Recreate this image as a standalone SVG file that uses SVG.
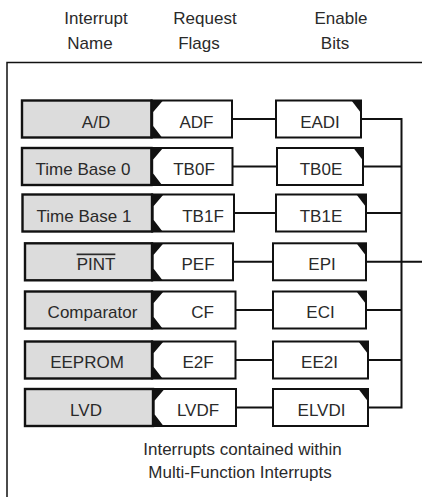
<svg xmlns="http://www.w3.org/2000/svg" width="422" height="497" viewBox="0 0 422 497">
<style>
text{font-family:"Liberation Sans",Arial,sans-serif;font-size:17px;fill:#2a2a2a;text-anchor:middle}
.name{fill:#dcdcdc;stroke:#111;stroke-width:2.4}
.box{fill:#fff;stroke:#111;stroke-width:2}
.blk{fill:#111;stroke:none}
.wire{stroke:#111;stroke-width:2;fill:none}
.frame{stroke:#111;stroke-width:1.5;fill:none}
</style>
<rect width="422" height="497" fill="#fff"/>
<g id="frame"><path class="frame" d="M7,497 V62.5 H422"/></g>
<g id="headers">
<text x="96" y="23.5">Interrupt</text><text x="90" y="48.5">Name</text>
<text x="205" y="23.5">Request</text><text x="199" y="48.5">Flags</text>
<text x="341" y="23.5">Enable</text><text x="335" y="48.5">Bits</text>
</g>
<g id="connectors">
<path class="wire" d="M232,119 H276 M361,119 H401.5 M232.5,166.5 H277 M363,166.5 H401.5 M234,213 H276 M366,213 H401.5 M233,261.8 H273 M366,261.8 H422 M235.5,310 H273 M366,310 H401.5 M235.5,360 H273 M368,360 H401.5 M236,407.5 H273 M368,407.5 H401.5 M401.5,118 V408.5"/>
</g>
<!-- Row 1 -->
<g id="name-ad"><rect class="name" x="22" y="100.5" width="129.5" height="37"/><text x="96" y="127.5">A/D</text></g>
<g id="flag-adf"><rect class="box" x="151.5" y="100.5" width="80.5" height="37"/><path class="blk" d="M151.5,100.5 H163 L153.2,112 V126 L162,137.5 H151.5 Z"/><text x="196.5" y="127.5">ADF</text></g>
<g id="en-eadi"><rect class="box" x="276" y="100.5" width="85" height="37"/><path class="blk" d="M351.5,100.5 H361 V113 Z"/><text x="320" y="127.5">EADI</text></g>
<!-- Row 2 -->
<g id="name-tb0"><rect class="name" x="22" y="148" width="129.5" height="37"/><text x="83" y="175">Time Base 0</text></g>
<g id="flag-tb0f"><rect class="box" x="151.5" y="148" width="81" height="37"/><path class="blk" d="M151.5,148 H163 L153.2,159.5 V173.5 L162,185 H151.5 Z"/><text x="194" y="175">TB0F</text></g>
<g id="en-tb0e"><rect class="box" x="277" y="148" width="86" height="37"/><path class="blk" d="M353.5,148 H363 V160.5 Z"/><text x="321" y="175">TB0E</text></g>
<!-- Row 3 -->
<g id="name-tb1"><rect class="name" x="22.5" y="194.5" width="129.5" height="37"/><text x="84" y="221.5">Time Base 1</text></g>
<g id="flag-tb1f"><rect class="box" x="152" y="194.5" width="82" height="37"/><path class="blk" d="M152,194.5 H163.5 L153.7,206 V220 L162.5,231.5 H152 Z"/><text x="203" y="221.5">TB1F</text></g>
<g id="en-tb1e"><rect class="box" x="276" y="194.5" width="90" height="37"/><path class="blk" d="M356.5,194.5 H366 V207 Z"/><text x="321" y="221.5">TB1E</text></g>
<!-- Row 4 -->
<g id="name-pint"><rect class="name" x="25" y="243.3" width="127" height="37"/><text x="96" y="269.5" text-decoration="overline">PINT</text></g>
<g id="flag-pef"><rect class="box" x="152" y="243.3" width="81" height="37"/><path class="blk" d="M152,243.3 H163.5 L153.7,254.8 V268.8 L162.5,280.3 H152 Z"/><text x="198" y="269.5">PEF</text></g>
<g id="en-epi"><rect class="box" x="273" y="243.3" width="93" height="37"/><path class="blk" d="M356.5,243.3 H366 V255.8 Z"/><text x="322" y="269.5">EPI</text></g>
<!-- Row 5 -->
<g id="name-comp"><rect class="name" x="25" y="291.5" width="127" height="37"/><text x="92.5" y="318">Comparator</text></g>
<g id="flag-cf"><rect class="box" x="152" y="291.5" width="83.5" height="37"/><path class="blk" d="M152,291.5 H163.5 L153.7,303 V317 L162.5,328.5 H152 Z"/><text x="202.5" y="318">CF</text></g>
<g id="en-eci"><rect class="box" x="273" y="291.5" width="93" height="37"/><path class="blk" d="M356.5,291.5 H366 V304 Z"/><text x="320.5" y="318">ECI</text></g>
<!-- Row 6 -->
<g id="name-eeprom"><rect class="name" x="25" y="341.5" width="127" height="37"/><text x="87" y="368">EEPROM</text></g>
<g id="flag-e2f"><rect class="box" x="152" y="341.5" width="83.5" height="37"/><path class="blk" d="M152,341.5 H163.5 L153.7,353 V367 L162.5,378.5 H152 Z"/><text x="198" y="368">E2F</text></g>
<g id="en-ee2i"><rect class="box" x="273" y="341.5" width="95" height="37"/><path class="blk" d="M358.5,341.5 H368 V354 Z"/><text x="319.5" y="368">EE2I</text></g>
<!-- Row 7 -->
<g id="name-lvd"><rect class="name" x="25" y="389" width="128" height="37"/><text x="86" y="415.5">LVD</text></g>
<g id="flag-lvdf"><rect class="box" x="153" y="389" width="83" height="37"/><path class="blk" d="M153,389 H164.5 L154.7,400.5 V414.5 L163.5,426 H153 Z"/><text x="198" y="415.5">LVDF</text></g>
<g id="en-elvdi"><rect class="box" x="273" y="389" width="95" height="37"/><path class="blk" d="M358.5,389 H368 V401.5 Z"/><text x="321.5" y="415.5">ELVDI</text></g>
<g id="caption">
<text x="242.5" y="455">Interrupts contained within</text>
<text x="240" y="477.5">Multi-Function Interrupts</text>
</g>
</svg>
